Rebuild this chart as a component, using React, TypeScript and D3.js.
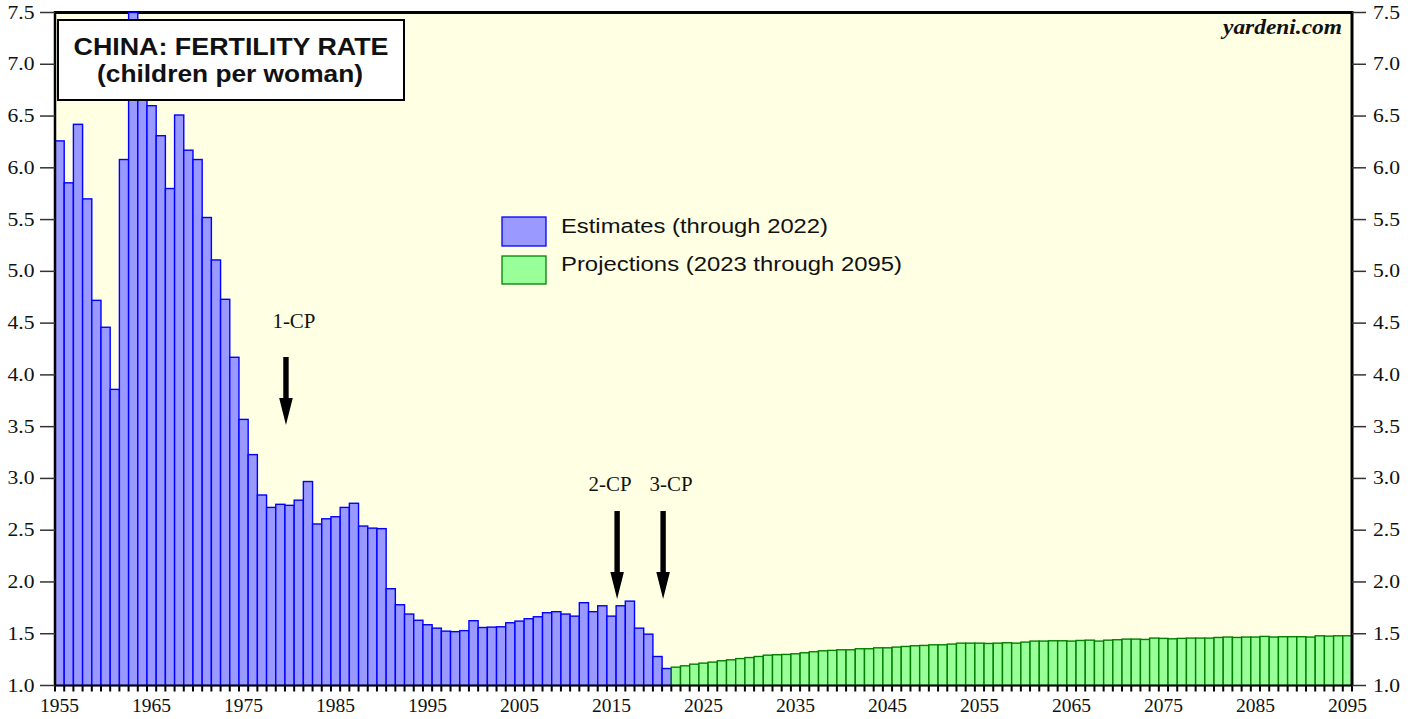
import { useEffect } from 'react'
import * as d3 from 'd3'

// China fertility rate, children per woman
const estimateStart = 1955
const estimates = [
  6.26, 5.855, 6.42, 5.7, 4.72, 4.46, 3.86, 6.08, 7.5, 6.7,
  6.6, 6.31, 5.8, 6.51, 6.17, 6.08, 5.52, 5.11, 4.73, 4.17,
  3.57, 3.23, 2.84, 2.72, 2.75, 2.74, 2.79, 2.97, 2.56, 2.61,
  2.63, 2.72, 2.76, 2.54, 2.52, 2.515, 1.935, 1.78, 1.69, 1.63,
  1.587, 1.554, 1.525, 1.52, 1.53, 1.626, 1.56, 1.564, 1.567, 1.606,
  1.622, 1.645, 1.664, 1.703, 1.713, 1.69, 1.67, 1.8, 1.713, 1.77,
  1.67, 1.77, 1.815, 1.554, 1.496, 1.28, 1.164,
]
const projectionStart = 2022
const projections = [
  1.177, 1.19, 1.206, 1.216, 1.226, 1.239, 1.248, 1.26, 1.27, 1.28,
  1.293, 1.297, 1.3, 1.306, 1.316, 1.326, 1.335, 1.339, 1.345, 1.345,
  1.355, 1.355, 1.364, 1.364, 1.371, 1.377, 1.384, 1.387, 1.393, 1.393,
  1.4, 1.409, 1.409, 1.409, 1.406, 1.409, 1.413, 1.409, 1.419, 1.429,
  1.429, 1.432, 1.432, 1.429, 1.435, 1.438, 1.429, 1.438, 1.442, 1.448,
  1.448, 1.445, 1.458, 1.455, 1.451, 1.455, 1.458, 1.458, 1.458, 1.464,
  1.468, 1.464, 1.468, 1.468, 1.474, 1.468, 1.471, 1.471, 1.471, 1.468,
  1.48, 1.477, 1.48, 1.48,
]
const xTickLabels = [
  '1955', '1965', '1975', '1985', '1995', '2005', '2015',
  '2025', '2035', '2045', '2055', '2065', '2075', '2085', '2095',
]
const yTicks = [1.0, 1.5, 2.0, 2.5, 3.0, 3.5, 4.0, 4.5, 5.0, 5.5, 6.0, 6.5, 7.0, 7.5]
const policies = [
  { label: '1-CP', year: 1980, top: 357, len: 68, textDx: 8, textY: 328 },
  { label: '2-CP', year: 2016, top: 511, len: 88, textDx: -7, textY: 491 },
  { label: '3-CP', year: 2021, top: 511, len: 88, textDx: 8, textY: 491 },
]

const serif = '"Liberation Serif", "Times New Roman", serif'
const sans = '"Liberation Sans", Arial, sans-serif'

const App = () => {
  useEffect(() => {
    document.body.style.margin = '0'
  }, [])

  const width = 1417
  const height = 719
  const left = 55
  const right = 1352
  const top = 12.5
  const bottom = 685.5

  const estRows = estimates.map((v, i) => ({ year: String(estimateStart + i), v }))
  const projRows = projections.map((v, i) => ({ year: String(projectionStart + i), v }))
  const years = [...estRows, ...projRows].map((d) => d.year)

  const x = d3.scaleBand<string>().domain(years).range([left, right]).padding(0)
  const bw = x.bandwidth()
  const y = d3.scaleLinear().domain([1, 7.5]).range([bottom, top])

  // thick black down arrow
  const arrow = (cx: number, y0: number, y1: number) => {
    const head = 27
    return `M${cx - 2.7},${y0} L${cx + 2.7},${y0} L${cx + 2.7},${y1 - head} L${cx + 6.8},${y1 - head} L${cx},${y1} L${cx - 6.8},${y1 - head} L${cx - 2.7},${y1 - head} Z`
  }

  return (
    <svg width={width} height={height} style={{ display: 'block' }}>
      <rect x={0} y={0} width={width} height={height} fill="white" />
      {/* plot background */}
      <rect x={left} y={top} width={right - left} height={bottom - top} fill="#FFFFE4" />
      <line x1={left} x2={right} y1={top} y2={top} stroke="black" strokeWidth={3} />

      {/* estimate bars */}
      {estRows.map((d) => (
        <rect
          key={'e' + d.year}
          x={x(d.year)}
          y={y(d.v)}
          width={bw}
          height={y(1) - y(d.v)}
          fill="#9999FF"
          stroke="#0000FF"
          strokeWidth={1.4}
        />
      ))}
      {/* projection bars */}
      {projRows.map((d) => (
        <rect
          key={'p' + d.year}
          x={x(d.year)}
          y={y(d.v)}
          width={bw}
          height={y(1) - y(d.v)}
          fill="#99FF99"
          stroke="#008000"
          strokeWidth={1.4}
        />
      ))}

      {/* frame */}
      <line x1={left} x2={left} y1={top - 1.5} y2={bottom} stroke="black" strokeWidth={2.5} />
      <line x1={right} x2={right} y1={top - 1.5} y2={bottom} stroke="black" strokeWidth={3} />
      <line x1={left} x2={right} y1={bottom} y2={bottom} stroke="black" strokeWidth={2} />

      {/* x ticks at year boundaries */}
      {years.map((yr) => (
        <line
          key={'t' + yr}
          x1={x(yr)!}
          x2={x(yr)!}
          y1={bottom}
          y2={bottom + 6}
          stroke="black"
          strokeWidth={2}
        />
      ))}
      <line x1={right} x2={right} y1={bottom} y2={bottom + 6} stroke="black" strokeWidth={2} />
      {xTickLabels.map((lab) => (
        <text
          key={'xl' + lab}
          x={x(lab)! + bw / 2}
          y={712}
          textAnchor="middle"
          fontFamily={serif}
          fontSize={19}
          textLength={39}
          lengthAdjust="spacingAndGlyphs"
          fill="#111"
        >
          {lab}
        </text>
      ))}

      {/* y axes, both sides */}
      {yTicks.map((t) => (
        <g key={'y' + t}>
          <line x1={40} x2={left} y1={y(t)} y2={y(t)} stroke="#333" strokeWidth={1.5} />
          <line x1={right} x2={1366} y1={y(t)} y2={y(t)} stroke="#333" strokeWidth={1.5} />
          <text
            x={34.5}
            y={y(t) + 6}
            textAnchor="end"
            fontFamily={serif}
            fontSize={19}
            textLength={27}
            lengthAdjust="spacingAndGlyphs"
            fill="#111"
          >
            {d3.format('.1f')(t)}
          </text>
          <text
            x={1373}
            y={y(t) + 6}
            fontFamily={serif}
            fontSize={19}
            textLength={27}
            lengthAdjust="spacingAndGlyphs"
            fill="#111"
          >
            {d3.format('.1f')(t)}
          </text>
        </g>
      ))}

      {/* policy arrows */}
      {policies.map((p) => {
        const cx = x(String(p.year))! + 1
        return (
          <g key={p.label}>
            <path d={arrow(cx, p.top, p.top + p.len)} fill="black" />
            <text
              x={cx + p.textDx}
              y={p.textY}
              textAnchor="middle"
              fontFamily={serif}
              fontSize={20}
              textLength={43}
              lengthAdjust="spacingAndGlyphs"
              fill="#111"
            >
              {p.label}
            </text>
          </g>
        )
      })}

      {/* title box */}
      <rect x={58} y={20} width={346} height={80} fill="white" stroke="black" strokeWidth={2} />
      <text
        x={231}
        y={55}
        textAnchor="middle"
        fontFamily={sans}
        fontWeight="bold"
        fontSize={24}
        textLength={315}
        lengthAdjust="spacingAndGlyphs"
        fill="#111"
      >
        CHINA: FERTILITY RATE
      </text>
      <text
        x={230}
        y={82}
        textAnchor="middle"
        fontFamily={sans}
        fontWeight="bold"
        fontSize={24}
        textLength={266}
        lengthAdjust="spacingAndGlyphs"
        fill="#111"
      >
        (children per woman)
      </text>

      <text
        x={1342}
        y={34}
        textAnchor="end"
        fontFamily={serif}
        fontWeight="bold"
        fontStyle="italic"
        fontSize={20}
        textLength={119}
        lengthAdjust="spacingAndGlyphs"
        fill="#111"
      >
        yardeni.com
      </text>

      {/* legend */}
      <rect x={502} y={217} width={44} height={29} fill="#9999FF" stroke="#0000FF" strokeWidth={1.3} />
      <text
        x={561}
        y={233}
        fontFamily={sans}
        fontSize={20.5}
        textLength={267}
        lengthAdjust="spacingAndGlyphs"
        fill="#111"
      >
        Estimates (through 2022)
      </text>
      <rect x={502} y={256} width={44} height={28} fill="#99FF99" stroke="#008000" strokeWidth={1.3} />
      <text
        x={561}
        y={271}
        fontFamily={sans}
        fontSize={20.5}
        textLength={341}
        lengthAdjust="spacingAndGlyphs"
        fill="#111"
      >
        Projections (2023 through 2095)
      </text>
    </svg>
  )
}

export default App
